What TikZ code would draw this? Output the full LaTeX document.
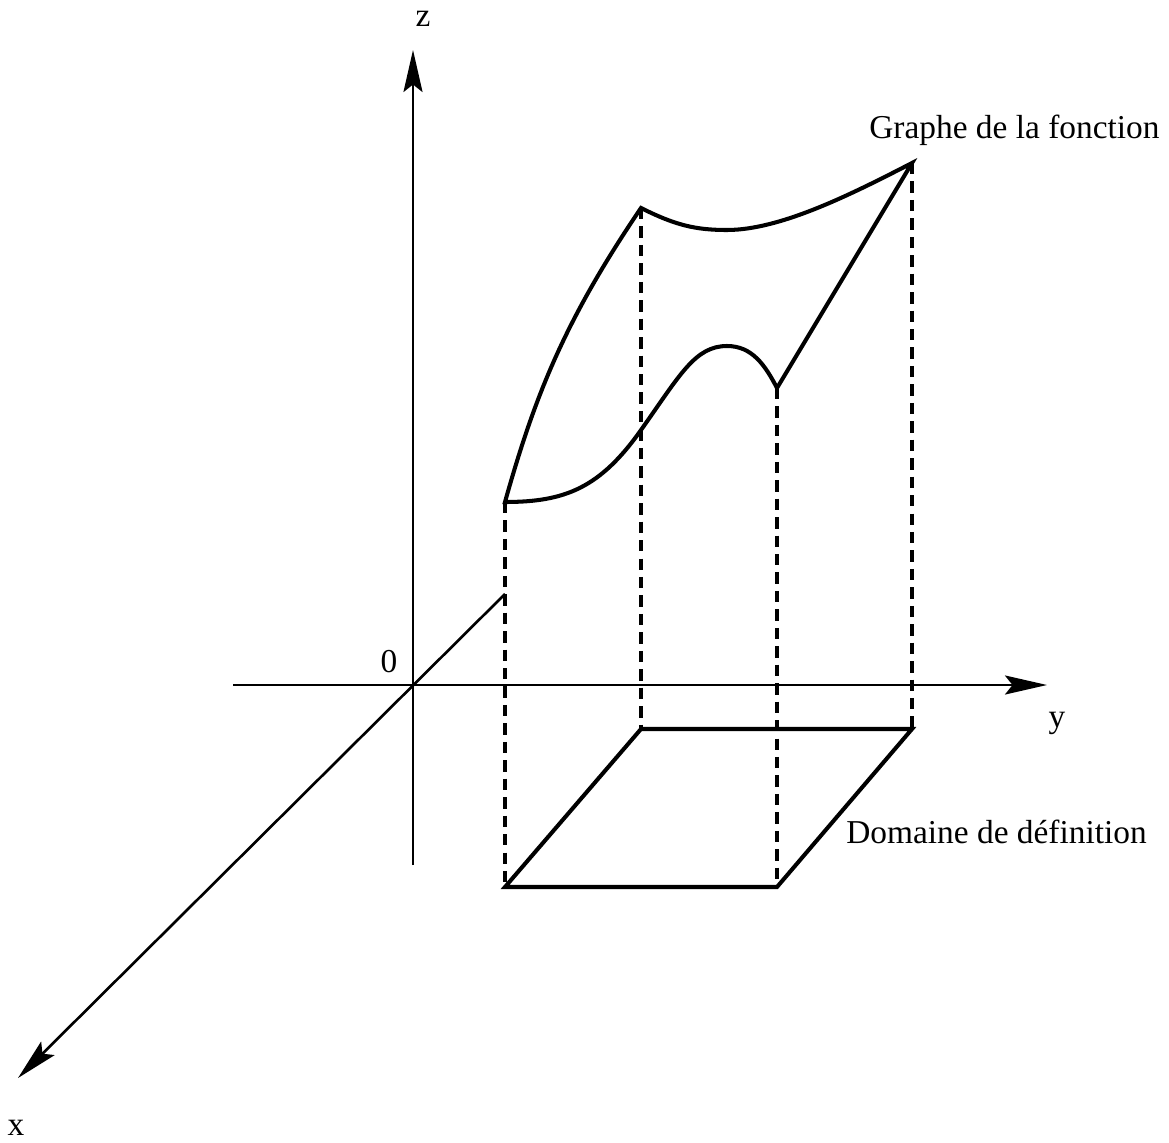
\documentclass[tikz,border=0pt]{standalone}
\usepackage{fontspec}
\setmainfont{Liberation Serif}
\usetikzlibrary{arrows.meta}

\begin{document}
\begin{tikzpicture}[x=0.02cm,y=-0.02cm,
    axis/.style={line width=1.5pt,
        -{Stealth[length=0.84cm,width=0.38cm,inset=0.15cm]}},
    surf/.style={line width=2.3pt},
    proj/.style={line width=2.1pt,dash pattern=on 6.5pt off 4pt},
    lbl/.style={font=\fontsize{19}{23}\selectfont,inner sep=0pt}]
    \useasboundingbox (0,0) rectangle (1169,1142);

    % axes
    \coordinate (O) at (413,685);
    \coordinate (zbot) at (413,865);
    \coordinate (ztop) at (413,50);
    \coordinate (yleft) at (233,685);
    \coordinate (yright) at (1047,685);
    \coordinate (xback) at (505,594);
    \coordinate (xfront) at (18,1078);
    \draw[axis] (zbot) -- (ztop);
    \draw[axis] (yleft) -- (yright);
    \draw[axis] (xback) -- (xfront);
    \node[lbl,anchor=base] (zlab) at (423,27) {z};
    \node[lbl,anchor=base] (ylab) at (1057,727) {y};
    \node[lbl,anchor=base] (xlab) at (16,1135) {x};
    \node[lbl,anchor=base] (olab) at (389,672) {0};

    % domaine
    \coordinate (P1) at (505,887);
    \coordinate (P2) at (777,887);
    \coordinate (P3) at (912,729);
    \coordinate (P4) at (641,729);
    \draw[surf] (P1) -- (P2) -- (P3) -- (P4) -- cycle;

    % graphe
    \coordinate (A) at (505,502);
    \coordinate (B) at (641,208);
    \coordinate (C) at (912,163);
    \coordinate (D) at (777,388);
    \foreach \u/\d in {A/P1,B/P4,D/P2,C/P3}
        \draw[proj] (\u) -- (\d);
    \draw[surf] (A) .. controls (535,395) and (565,320) .. (B)
        .. controls (675,225) and (695,230) .. (727,230)
        .. controls (780,230) and (850,195) .. (C)
        -- (D)
        .. controls (765,365) and (752,346) .. (727,346)
        .. controls (695,346) and (680,375) .. (641,430)
        .. controls (600,488) and (565,502) .. cycle;

    \node[lbl,anchor=base west] (graphe) at (869,139) {Graphe de la fonction};
    \node[lbl,anchor=base west] (domaine) at (846,843) {Domaine de définition};
\end{tikzpicture}
\end{document}
